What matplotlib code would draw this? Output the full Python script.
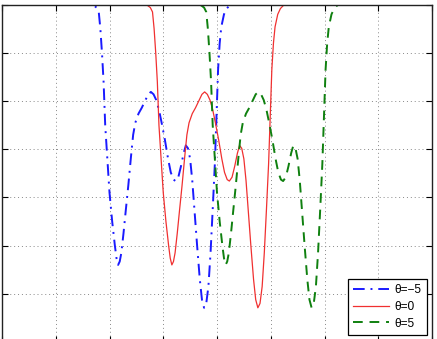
import matplotlib
matplotlib.use("Agg")
import matplotlib.pyplot as plt

# beam patterns (angle, level in dB)
x_theta0 = [-40, -14.0, -13.0, -12.4, -12.0, -11.7, -11.4, -11.1, -10.8, -10.4, -10.0, -9.5,
            -9.0, -8.7, -8.4, -8.1, -7.8, -7.4, -7.0, -6.5, -6.0, -5.6, -5.2, -4.6, -4.0,
            -3.4, -2.8, -2.3, -1.8, -1.3, -0.8, -0.3, 0.3, 0.9, 1.4, 1.9, 2.3, 2.8, 3.3,
            3.8, 4.2, 4.6, 5.0, 5.4, 5.8, 6.3, 6.8, 7.2, 7.6, 8.0, 8.4, 8.8, 9.2, 9.6,
            10.0, 10.2, 10.5, 10.8, 11.3, 11.8, 12.4, 13.0, 40]
x_theta_m5 = [-40, -24.0, -23.0, -22.4, -22.0, -21.7, -21.4, -21.1, -20.8, -20.4, -20.0, -19.5,
              -19.0, -18.7, -18.4, -18.1, -17.8, -17.4, -17.0, -16.5, -16.0, -15.6, -15.2, -14.6, -14.0,
              -13.4, -12.8, -12.3, -11.8, -11.3, -10.8, -10.3, -9.7, -9.1, -8.6, -8.1, -7.7, -7.2, -6.7,
              -6.2, -5.8, -5.4, -5.0, -4.6, -4.2, -3.7, -3.2, -2.8, -2.4, -2.0, -1.6, -1.2, -0.8, -0.4,
              0.0, 0.2, 0.5, 0.8, 1.3, 1.8, 2.4, 3.0, 40]
x_theta_p5 = [-40, -4.0, -3.0, -2.4, -2.0, -1.7, -1.4, -1.1, -0.8, -0.4, 0.0, 0.5,
              1.0, 1.3, 1.6, 1.9, 2.2, 2.6, 3.0, 3.5, 4.0, 4.4, 4.8, 5.4, 6.0,
              6.6, 7.2, 7.7, 8.2, 8.7, 9.2, 9.7, 10.3, 10.9, 11.4, 11.9, 12.3, 12.8, 13.3,
              13.8, 14.2, 14.6, 15.0, 15.4, 15.8, 16.3, 16.8, 17.2, 17.6, 18.0, 18.4, 18.8, 19.2, 19.6,
              20.0, 20.2, 20.5, 20.8, 21.3, 21.8, 22.4, 23.0, 40]
level_db = [0, 0, -0.1, -0.6, -1.5, -5, -10, -16, -25, -32, -39, -45,
            -50, -52.6, -54.0, -53.3, -51.5, -47.5, -43, -37.5, -31.5, -27.0, -24.5, -22.6, -21.4,
            -20.0, -18.6, -18.1, -18.6, -19.8, -21.8, -24.5, -28.0, -32.0, -34.8, -36.3, -36.6, -35.8, -33.5,
            -30.8, -29.2, -29.8, -32.0, -36.5, -42.5, -50, -57, -61.2, -62.9, -62.0, -58.5, -51.5, -42.5, -33,
            -20, -13.5, -8, -4.6, -2.0, -0.8, -0.1, 0, 0]
labels = ["θ=−5", "θ=0", "θ=5"]


def main() -> None:
    plt.rcParams["font.family"] = ["Liberation Sans", "DejaVu Sans"]
    fig = plt.figure(figsize=(4.37, 3.39), dpi=100)
    ax = fig.add_axes([2 / 437, -3 / 339, 430 / 437, 337.3 / 339])

    ax.plot(x_theta_m5, level_db, color="#1a1aff", lw=1.4, ls=(0, (6, 3, 1, 3)), label=labels[0])
    ax.plot(x_theta0, level_db, color="#f03030", lw=0.9, ls="-", label=labels[1])
    ax.plot(x_theta_p5, level_db, color="#0f800f", lw=1.4, ls=(0, (5, 3.5)), label=labels[2])

    ax.set_xlim(-40, 40)
    ax.set_ylim(-70, 0)
    ax.set_xticks(range(-40, 41, 10))
    ax.set_yticks(range(-70, 1, 10))
    ax.tick_params(direction="in", length=4, width=0.8, top=True, right=True,
                   labelbottom=False, labelleft=False)
    ax.grid(True, color="#888888", lw=0.7, ls=(0, (1, 3)))
    for s in ax.spines.values():
        s.set_color("#222222")
        s.set_linewidth(1.0)

    leg = ax.legend(loc="lower right", bbox_to_anchor=(427 / 437, 1 - 335 / 339),
                    bbox_transform=fig.transFigure, borderaxespad=0, fontsize=8.6,
                    fancybox=False, framealpha=1, edgecolor="black", borderpad=0.45,
                    handlelength=3.0, handletextpad=0.45, labelspacing=0.4)
    leg.get_frame().set_linewidth(0.9)

    fig.savefig("out.png", dpi=100)
    plt.close(fig)


if __name__ == "__main__":
    main()
